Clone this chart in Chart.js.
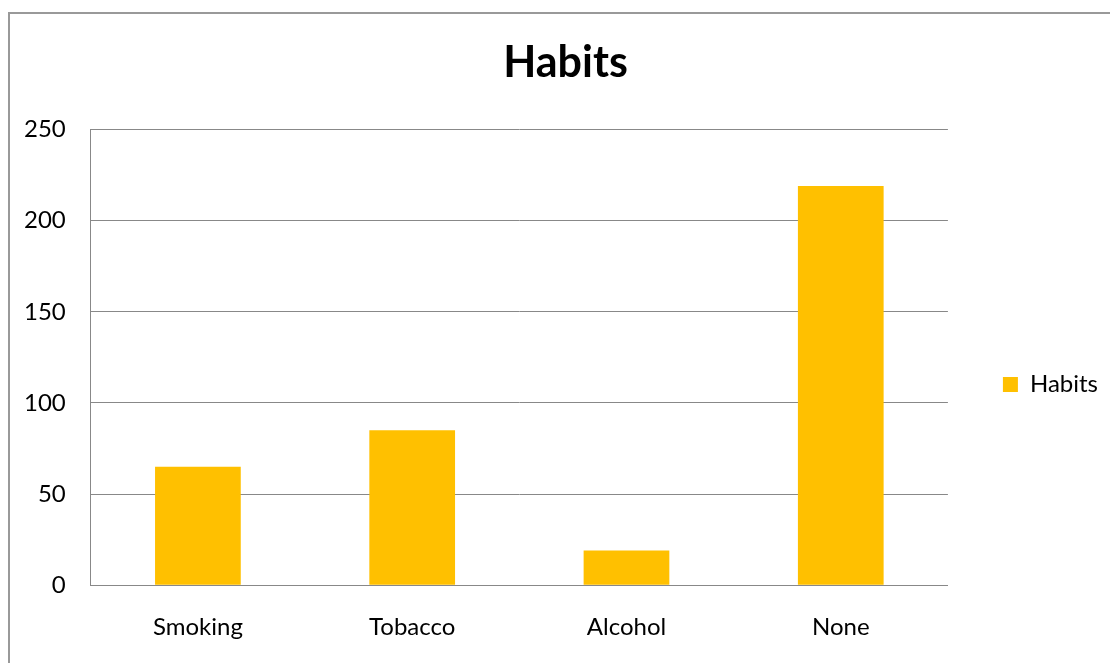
<!DOCTYPE html>
<html>
<head>
<meta charset="utf-8">
<script src="https://cdn.jsdelivr.net/npm/chart.js@4"></script>
<style>
  html, body { margin: 0; padding: 0; background: #fff; overflow: hidden; }
  .frame { position: absolute; left: 8px; top: 12px; width: 1300px; height: 900px; border: 2px solid #999; }
  .chart__container { position: absolute; left: 0; top: 0; width: 1110px; height: 663px; }
</style>
</head>
<body>
<div class="frame"></div>
<div class="chart__container"><canvas id="chart"></canvas></div>
<script>
const categories = ['Smoking', 'Tobacco', 'Alcohol', 'None'];
const habit_values = [65, 85, 19, 219];
const series_name = 'Habits';
const y_ticks = [0, 50, 100, 150, 200, 250];

const font_family = 'Lato, "Open Sans", sans-serif';
const grid_color = '#888888';

// nudge legend down and title right, like the original
const box_offsets = {
    id: 'box_offsets',
    afterLayout(chart) {
        chart.legend.top += 31;
        chart.legend.bottom += 31;
        chart.titleBlock.left += 12;
        chart.titleBlock.right += 12;
    }
};

const ctx = document.getElementById('chart');
new Chart(ctx, {
    type: 'bar',
    data: {
        labels: categories,
        datasets: [{
            label: series_name,
            data: habit_values,
            backgroundColor: '#ffc000',
            categoryPercentage: 0.4,
            barPercentage: 1.0
        }]
    },
    options: {
        responsive: true,
        maintainAspectRatio: false,
        animation: false,
        // axes reserve tick padding twice, hence the negative values
        layout: { padding: { left: -1, right: 2, top: 37, bottom: -7 } },
        plugins: {
            title: {
                display: true,
                text: 'Habits',
                color: '#000',
                font: { family: font_family, size: 43, weight: 'bold' },
                padding: { top: 0, bottom: 41 }
            },
            legend: {
                display: true,
                position: 'right',
                labels: {
                    color: '#000',
                    font: { family: font_family, size: 24 },
                    boxWidth: 15,
                    boxHeight: 15,
                    padding: 55
                }
            },
            tooltip: { enabled: false }
        },
        scales: {
            x: {
                grid: { display: false, drawTicks: false },
                border: { display: true, color: grid_color, width: 1 },
                ticks: { color: '#000', font: { family: font_family, size: 24 }, padding: 28 }
            },
            y: {
                min: 0,
                max: 250,
                afterBuildTicks: axis => { axis.ticks = y_ticks.map(v => ({ value: v })); },
                grid: { color: grid_color, drawTicks: false },
                border: { display: true, color: grid_color, width: 1 },
                ticks: { color: '#000', font: { family: font_family, size: 24 }, padding: 25 }
            }
        }
    },
    plugins: [box_offsets]
});
</script>
</body>
</html>
